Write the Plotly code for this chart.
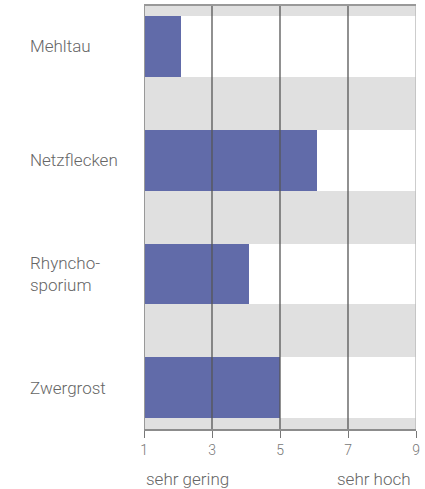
import plotly.graph_objects as go

# Krankheitsanfälligkeit (Skala 1 = sehr gering bis 9 = sehr hoch)
categories = ["Mehltau", "Netzflecken", "Rhyncho-<br>sporium", "Zwergrost"]
values = [2.1, 6.1, 4.1, 5.0]
scale_max = 9
tick_values = [1, 3, 5, 7, 9]
scale_labels = ["sehr gering", "sehr hoch"]

BAR = "#616ba9"
BAND = "#e0e0e0"
TEXT = "#666666"
FONT = "Roboto"
WEIGHT = 300

positions = list(range(len(categories)))
bar_width = 0.535

fig = go.Figure()

# white lane behind each bar across the full scale
fig.add_trace(go.Bar(
    y=positions, x=[scale_max] * len(categories), orientation="h",
    width=bar_width, marker=dict(color="white", line=dict(width=0)),
    hoverinfo="skip", showlegend=False,
))
fig.add_trace(go.Bar(
    y=positions, x=values, orientation="h",
    width=bar_width, marker=dict(color=BAR, line=dict(width=0)),
    showlegend=False,
))

shapes = []
# vertical guide lines drawn over the bars
for xv in [3, 5, 7]:
    shapes.append(dict(type="line", xref="x", yref="paper", x0=xv, x1=xv, y0=0, y1=1,
                       line=dict(color="#555555", width=1.3), layer="above"))
shapes.append(dict(type="line", xref="x", yref="paper", x0=1, x1=1, y0=0, y1=1,
                   line=dict(color="#999999", width=2), layer="above"))
shapes.append(dict(type="line", xref="x", yref="paper", x0=9, x1=9, y0=0, y1=1,
                   line=dict(color="#bdbdbd", width=1.5), layer="above"))
shapes.append(dict(type="line", xref="paper", yref="paper", x0=0, x1=1, y0=1, y1=1,
                   line=dict(color="#999999", width=2), layer="above"))

label_font = dict(family=FONT, size=17, color=TEXT, weight=WEIGHT)

annotations = []
for pos, label in zip(positions, categories):
    annotations.append(dict(
        xref="paper", yref="y", x=-0.425, y=pos, text=label, showarrow=False,
        xanchor="left", yanchor="middle", align="left", font=label_font,
    ))
annotations.append(dict(
    xref="x", yref="paper", x=1, y=-0.118, text=scale_labels[0], showarrow=False,
    xanchor="left", yanchor="middle", font=label_font,
))
annotations.append(dict(
    xref="x", yref="paper", x=8.92, y=-0.118, text=scale_labels[1], showarrow=False,
    xanchor="right", yanchor="middle", font=label_font,
))

fig.update_layout(
    width=425, height=489,
    margin=dict(l=144, r=9, t=5, b=60),
    paper_bgcolor="white",
    plot_bgcolor=BAND,
    barmode="overlay",
    bargap=0,
    shapes=shapes,
    annotations=annotations,
    xaxis=dict(
        range=[1, scale_max], tickvals=tick_values, showgrid=False, zeroline=False,
        showline=True, linecolor="#8c8c8c", linewidth=1.5,
        ticks="outside", ticklen=7, tickcolor="#777777", tickwidth=1.3,
        tickfont=dict(family=FONT, size=14, color="#777777", weight=WEIGHT),
        fixedrange=True,
    ),
    yaxis=dict(
        range=[3.36, -0.36], showticklabels=False, showgrid=False, zeroline=False,
        showline=False, fixedrange=True,
    ),
)

fig.write_html("out.html")
